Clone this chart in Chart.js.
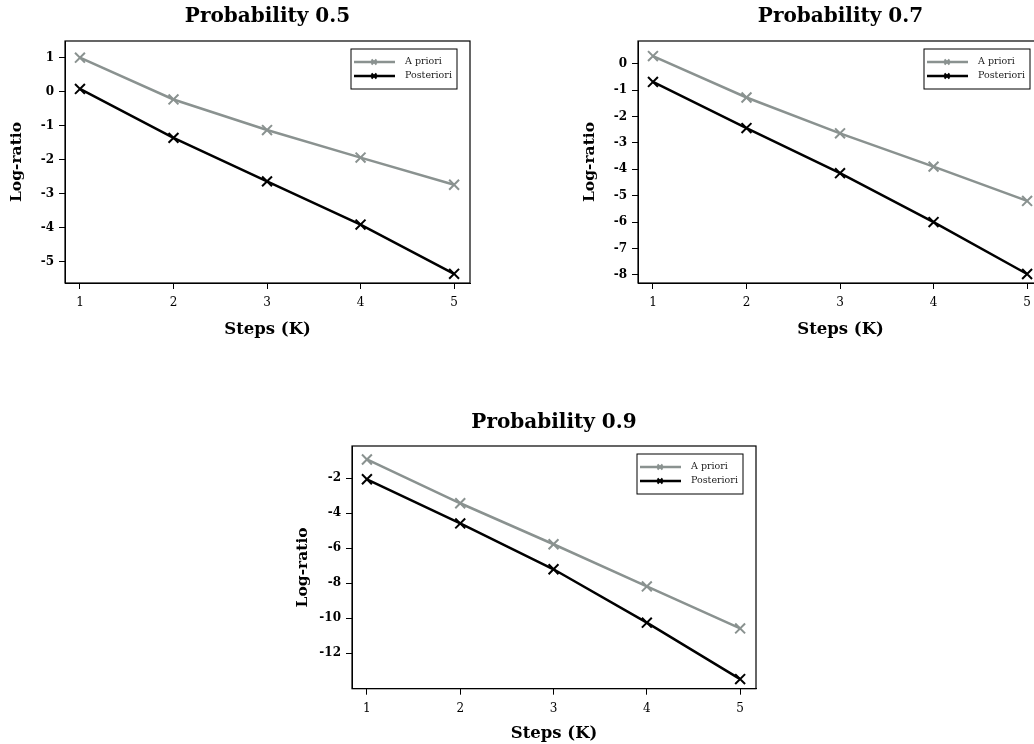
<!DOCTYPE html>
<html>
<head>
<meta charset="utf-8">
<script src="https://cdn.jsdelivr.net/npm/chart.js@4.4.1/dist/chart.umd.min.js"></script>
<style>
  html, body { margin: 0; padding: 0; background: #fff; overflow: hidden; }
  body { width: 1034px; height: 744px; position: relative; }
  .box { position: absolute; }
</style>
</head>
<body>
<div class="box" style="left:0px;top:0px;width:500px;height:345px"><canvas id="c05"></canvas></div>
<div class="box" style="left:560px;top:0px;width:500px;height:345px"><canvas id="c07"></canvas></div>
<div class="box" style="left:290px;top:380px;width:500px;height:364px"><canvas id="c09"></canvas></div>
<script>
// steps on the x axis
const steps = [1, 2, 3, 4, 5];
const seriesNames = ['A priori', 'Posteriori'];

// probability 0.5
const priori05 = [1.01, -0.22, -1.12, -1.93, -2.73];
const post05 = [0.09, -1.35, -2.63, -3.9, -5.35];
const yTicks05 = [1, 0, -1, -2, -3, -4, -5];

// probability 0.7
const priori07 = [0.29, -1.28, -2.64, -3.9, -5.2];
const post07 = [-0.69, -2.44, -4.15, -6.0, -7.97];
const yTicks07 = [0, -1, -2, -3, -4, -5, -6, -7, -8];

// probability 0.9
const priori09 = [-0.93, -3.43, -5.77, -8.18, -10.58];
const post09 = [-2.06, -4.58, -7.2, -10.25, -13.47];
const yTicks09 = [-2, -4, -6, -8, -10, -12];

const GREY = '#8a9290';
const SERIF = '"DejaVu Serif", serif';

// title over the plot, frame round the plot, small legend box top right
const framePlugin = {
    id: 'frame',
    afterDraw(chart, args, opts) {
        const a = chart.chartArea;
        const ctx = chart.ctx;
        ctx.save();
        ctx.fillStyle = '#000';
        ctx.font = 'bold 20px ' + SERIF;
        ctx.textAlign = 'center';
        ctx.textBaseline = 'middle';
        ctx.fillText(opts.title, (a.left + a.right) / 2, opts.titleY);

        ctx.strokeStyle = '#000';
        ctx.lineWidth = 1.2;
        ctx.strokeRect(a.left, a.top, a.right - a.left, a.bottom - a.top);

        // legend
        const w = 106, h = 40;
        const x0 = a.right - 13 - w, y0 = a.top + 8;
        ctx.fillStyle = '#fff';
        ctx.fillRect(x0, y0, w, h);
        ctx.lineWidth = 1;
        ctx.strokeRect(x0, y0, w, h);
        const cols = [GREY, '#000'];
        ctx.font = '9.5px ' + SERIF;
        ctx.textAlign = 'left';
        for (let i = 0; i < 2; i++) {
            const y = y0 + 13 + i * 14;
            ctx.strokeStyle = cols[i];
            ctx.lineWidth = 2.5;
            ctx.beginPath();
            ctx.moveTo(x0 + 3, y);
            ctx.lineTo(x0 + 44, y);
            ctx.stroke();
            ctx.lineWidth = 2;
            ctx.beginPath();
            const cx = x0 + 23, d = 2.5;
            ctx.moveTo(cx - d, y - d); ctx.lineTo(cx + d, y + d);
            ctx.moveTo(cx + d, y - d); ctx.lineTo(cx - d, y + d);
            ctx.stroke();
            ctx.fillStyle = '#222';
            ctx.fillText(seriesNames[i], x0 + 54, y);
        }
        ctx.restore();
    }
};

function makeChart(id, title, priori, post, yTicks, yMin, yMax, cfg) {
    const ctx = document.getElementById(id).getContext('2d');
    return new Chart(ctx, {
        type: 'line',
        data: {
            labels: steps,
            datasets: [
                {
                    label: seriesNames[0],
                    data: steps.map((s, i) => ({ x: s, y: priori[i] })),
                    borderColor: GREY,
                    borderWidth: 2.5,
                    pointStyle: 'crossRot',
                    pointRadius: 7,
                    pointBorderWidth: 2,
                    pointBorderColor: GREY,
                    tension: 0
                },
                {
                    label: seriesNames[1],
                    data: steps.map((s, i) => ({ x: s, y: post[i] })),
                    borderColor: '#000',
                    borderWidth: 2.5,
                    pointStyle: 'crossRot',
                    pointRadius: 7,
                    pointBorderWidth: 2,
                    pointBorderColor: '#000',
                    tension: 0
                }
            ]
        },
        options: {
            responsive: true,
            maintainAspectRatio: false,
            animation: false,
            layout: { padding: { left: 0, right: cfg.padRight, top: cfg.padTop, bottom: 0 } },
            plugins: {
                legend: { display: false },
                tooltip: { enabled: false },
                title: { display: false },
                frame: { title: title, titleY: cfg.titleY }
            },
            scales: {
                x: {
                    type: 'linear',
                    min: 0.84,
                    max: 5.17,
                    afterBuildTicks: axis => { axis.ticks = steps.map(v => ({ value: v })); },
                    afterFit: axis => { axis.height = cfg.xHeight; },
                    ticks: {
                        color: '#000',
                        font: { family: SERIF, size: 12 },
                        padding: 7,
                        maxRotation: 0
                    },
                    grid: { drawOnChartArea: false, drawTicks: true, tickLength: 6, tickColor: '#000', tickWidth: 1 },
                    border: { display: true, color: '#000', width: 1 },
                    title: {
                        display: true,
                        text: 'Steps (K)',
                        color: '#000',
                        font: { family: SERIF, size: 16.5, weight: 'bold' },
                        padding: { top: 0, bottom: cfg.xTitlePad }
                    }
                },
                y: {
                    type: 'linear',
                    min: yMin,
                    max: yMax,
                    afterBuildTicks: axis => { axis.ticks = yTicks.map(v => ({ value: v })); },
                    afterFit: axis => { axis.width = cfg.yWidth; },
                    ticks: {
                        color: '#000',
                        font: { family: SERIF, size: 12, weight: 'bold' },
                        padding: 5
                    },
                    grid: { drawOnChartArea: false, drawTicks: true, tickLength: 6, tickColor: '#000', tickWidth: 1 },
                    border: { display: true, color: '#000', width: 1 },
                    title: {
                        display: true,
                        text: 'Log-ratio',
                        color: '#000',
                        font: { family: SERIF, size: 15.5, weight: 'bold' },
                        padding: { top: cfg.yTitlePad, bottom: 0 }
                    }
                }
            }
        },
        plugins: [framePlugin]
    });
}

makeChart('c05', 'Probability 0.5', priori05, post05, yTicks05, -5.62, 1.5,
    { padRight: 30, padTop: 41, titleY: 17, xHeight: 62, xTitlePad: 5, yWidth: 65, yTitlePad: 7.5 });
makeChart('c07', 'Probability 0.7', priori07, post07, yTicks07, -8.31, 0.86,
    { padRight: 17, padTop: 41, titleY: 17, xHeight: 62, xTitlePad: 5, yWidth: 78, yTitlePad: 20.5 });
makeChart('c09', 'Probability 0.9', priori09, post09, yTicks09, -14.02, -0.16,
    { padRight: 34, padTop: 66, titleY: 43, xHeight: 55.3, xTitlePad: 0, yWidth: 62, yTitlePad: 4 });
</script>
</body>
</html>
